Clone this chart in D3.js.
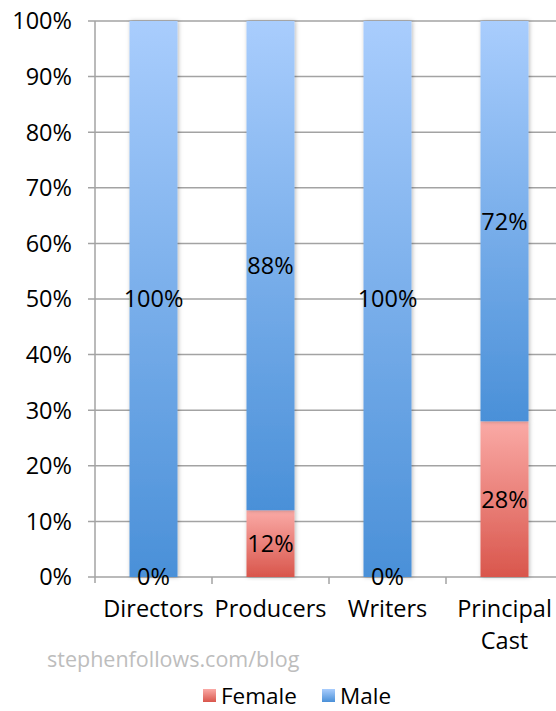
<!DOCTYPE html>
<html>
<head>
<meta charset="utf-8">
<script src="https://cdn.jsdelivr.net/npm/d3@7/dist/d3.min.js"></script>
<style>
  html, body { margin: 0; padding: 0; background: #fff; }
  svg { display: block; font-family: "Open Sans", "Noto Sans", sans-serif; }
</style>
</head>
<body>
<svg id="chart" width="556" height="711"></svg>
<script>
// Gender split per role
const categories = ["Directors", "Producers", "Writers", "Principal Cast"];
const female = [0, 12, 0, 28];
const male = [100, 88, 100, 72];
const yTicks = [0, 10, 20, 30, 40, 50, 60, 70, 80, 90, 100];
const seriesNames = ["Female", "Male"];

(function () {
const svg = d3.select("#chart");
const W = 556;
const plotLeft = 95, plotTop = 21, plotBottom = 577;
const bandW = 117;
const fs = 23.5;

const x = d3.scaleBand()
  .domain(categories)
  .range([plotLeft, plotLeft + bandW * categories.length])
  .paddingInner(0)
  .paddingOuter(0);
const barW = 48;
const y = d3.scaleLinear().domain([0, 100]).range([plotBottom, plotTop]);

// Gradients and shadow
const defs = svg.append("defs");
function grad(id, c1, c2) {
  const g = defs.append("linearGradient").attr("id", id)
    .attr("x1", 0).attr("y1", 0).attr("x2", 0).attr("y2", 1);
  g.append("stop").attr("offset", "0%").attr("stop-color", c1);
  g.append("stop").attr("offset", "100%").attr("stop-color", c2);
}
grad("gMale", "#a9cdfd", "#4a90d8");
grad("gFemale", "#faaaa6", "#d9564c");
const f = defs.append("filter").attr("id", "shadow")
  .attr("x", "-30%").attr("y", "-5%").attr("width", "160%").attr("height", "110%");
f.append("feDropShadow").attr("dx", 1).attr("dy", 0).attr("stdDeviation", 2.2)
  .attr("flood-color", "#000").attr("flood-opacity", 0.28);

// Gridlines and y ticks
const grid = svg.append("g");
grid.selectAll("line").data(yTicks).join("line")
  .attr("x1", plotLeft - 7).attr("x2", W + 10)
  .attr("y1", d => y(d)).attr("y2", d => y(d))
  .attr("stroke", "#a3a3a3").attr("stroke-width", 1.5);
svg.append("line")
  .attr("x1", plotLeft).attr("x2", plotLeft).attr("y1", plotTop).attr("y2", plotBottom + 6)
  .attr("stroke", "#a3a3a3").attr("stroke-width", 1.5);
// x tick marks at band edges
const edges = categories.map(c => x(c) + bandW);
svg.append("g").selectAll("line").data(edges).join("line")
  .attr("x1", d => d).attr("x2", d => d)
  .attr("y1", plotBottom).attr("y2", plotBottom + 7)
  .attr("stroke", "#a3a3a3").attr("stroke-width", 1.5);

svg.append("g").selectAll("text").data(yTicks).join("text")
  .attr("x", 72).attr("y", d => y(d))
  .attr("dy", "0.36em")
  .attr("text-anchor", "end")
  .attr("font-size", fs)
  .attr("fill", "#000")
  .text(d => d + "%");

// Stacked bars
const rows = categories.map((c, i) => ({ c, female: female[i], male: male[i] }));
const stack = d3.stack().keys(["female", "male"])(rows);
const fills = { female: "url(#gFemale)", male: "url(#gMale)" };

const barsG = svg.append("g");
stack.forEach(s => {
  barsG.selectAll(null).data(s).join("rect")
    .attr("x", d => x(d.data.c) + (bandW - barW) / 2)
    .attr("width", barW)
    .attr("y", d => y(d[1]))
    .attr("height", d => y(d[0]) - y(d[1]))
    .attr("fill", fills[s.key])
    .attr("filter", "url(#shadow)");
});

// Value labels at segment centres
const labG = svg.append("g");
stack.forEach(s => {
  labG.selectAll(null).data(s).join("text")
    .attr("x", d => x(d.data.c) + bandW / 2)
    .attr("y", d => y((d[0] + d[1]) / 2))
    .attr("dy", "0.36em")
    .attr("text-anchor", "middle")
    .attr("font-size", fs)
    .attr("fill", "#000")
    .text(d => (d[1] - d[0]) + "%");
});

// Category labels
const catG = svg.append("g");
categories.forEach(c => {
  const words = c === "Principal Cast" ? ["Principal", "Cast"] : [c];
  words.forEach((w, i) => {
    catG.append("text")
      .attr("x", x(c) + bandW / 2)
      .attr("y", 617 + i * 32)
      .attr("text-anchor", "middle")
      .attr("font-size", fs)
      .attr("fill", "#000")
      .text(w);
  });
});

// Source
svg.append("text")
  .attr("x", 47).attr("y", 667)
  .attr("font-size", 21.5)
  .attr("fill", "#bdbdbd")
  .text("stephenfollows.com/blog");

// Legend
const legend = svg.append("g");
const legendX = [203, 322];
seriesNames.forEach((n, i) => {
  legend.append("rect")
    .attr("x", legendX[i]).attr("y", 689)
    .attr("width", 13).attr("height", 13)
    .attr("fill", i === 0 ? "url(#gFemale)" : "url(#gMale)");
  legend.append("text")
    .attr("x", legendX[i] + 18).attr("y", 704)
    .attr("font-size", 22.5)
    .attr("fill", "#000")
    .text(n);
});
})();
</script>
</body>
</html>
